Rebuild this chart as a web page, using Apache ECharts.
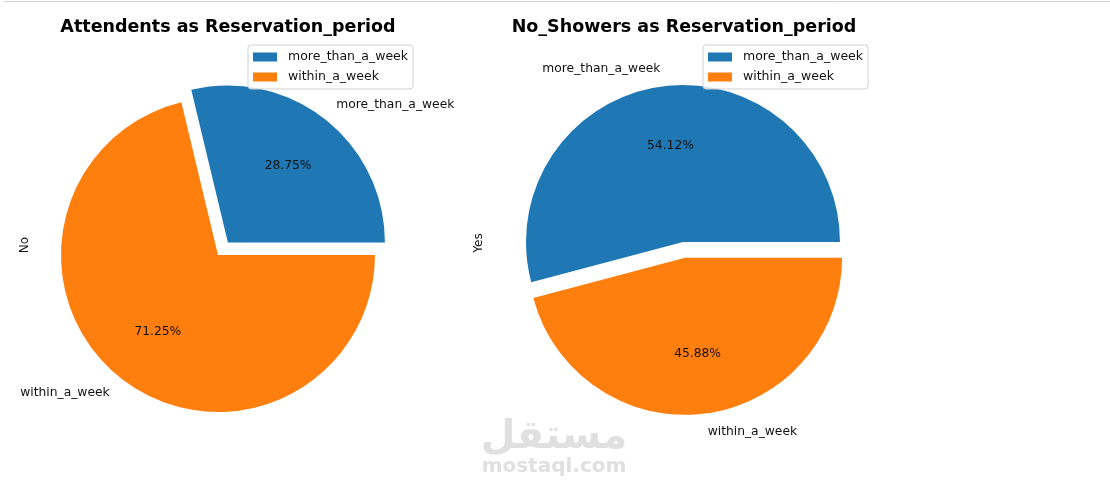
<!DOCTYPE html>
<html>
<head>
<meta charset="utf-8">
<script src="https://cdn.jsdelivr.net/npm/echarts@6/dist/echarts.min.js"></script>
<style>
  html, body { margin: 0; padding: 0; background: #fff; }
  #chart { width: 1110px; height: 489px; }
</style>
</head>
<body>
<div id="chart"></div>
<script>
  // data (percent shares)
  var categories = ['more_than_a_week', 'within_a_week'];
  var attendedShare = [28.75, 71.25];   // "No" (attended)
  var noShowShare = [54.12, 45.88];     // "Yes" (no show)
  var titles = ['Attendents as Reservation_period', 'No_Showers as Reservation_period'];
  var ylabels = ['No', 'Yes'];

  var colors = ['#1f77b4', '#ff7f0e'];
  var FONT = 'DejaVu Sans';
  var R = 157;

  // two pies per chart: the visible one with names outside,
  // a transparent bigger one that carries the % labels at 0.6r
  function pieSeries (values, explodeIdx, center) {
    var slices = values.map(function (v, i) {
      return { name: categories[i], value: v, selected: i === explodeIdx }
    })
    var common = {
      type: 'pie',
      center: center,
      startAngle: 0,
      clockwise: false,
      selectedMode: 'multiple',
      selectedOffset: 16,
      avoidLabelOverlap: false,
      animation: false,
      emphasis: { disabled: true },
      data: slices
    }
    var main = Object.assign({}, common, {
      radius: [0, R],
      itemStyle: { borderWidth: 0 },
      label: {
        position: 'outside',
        formatter: '{b}',
        fontFamily: FONT, fontSize: 12.3, color: '#111',
        distanceToLabelLine: 0
      },
      labelLine: { show: false, length: 18, length2: 0 }
    })
    var pct = Object.assign({}, common, {
      radius: [0, R * 1.2],
      silent: true,
      itemStyle: { color: 'transparent', borderWidth: 0 },
      label: {
        position: 'inside',
        formatter: '{d}%',
        fontFamily: FONT, fontSize: 12.3, color: '#111'
      },
      labelLine: { show: false }
    })
    return [main, pct]
  }

  function legendAt (left) {
    return {
      data: categories,
      orient: 'vertical',
      left: left, top: 45,
      padding: [5, 5],
      itemWidth: 24, itemHeight: 9, itemGap: 6,
      icon: 'rect',
      backgroundColor: 'rgba(255,255,255,0.8)',
      borderColor: '#d0d0d0', borderWidth: 1, borderRadius: 3,
      selectedMode: false,
      textStyle: { fontFamily: FONT, fontSize: 12.5, color: '#111', lineHeight: 14, padding: [0, 0, 0, 6] }
    }
  }

  var chart = echarts.init(document.getElementById('chart'))
  chart.setOption({
    color: colors,
    title: [
      { text: titles[0], left: 223, top: 13, textAlign: 'center',
        textStyle: { fontFamily: FONT, fontSize: 17.5, fontWeight: 'bold', color: '#000' } },
      { text: titles[1], left: 679, top: 13, textAlign: 'center',
        textStyle: { fontFamily: FONT, fontSize: 17.5, fontWeight: 'bold', color: '#000' } }
    ],
    legend: [legendAt(248), legendAt(703)],
    graphic: [
      { type: 'line', shape: { x1: 4, y1: 1.5, x2: 1110, y2: 1.5 }, style: { stroke: '#d4d4d4', lineWidth: 1 } },
      { type: 'text', x: 25, y: 245, rotation: Math.PI / 2,
        style: { text: ylabels[0], fontFamily: FONT, fontSize: 12, fill: '#111', align: 'center', verticalAlign: 'middle' } },
      { type: 'text', x: 479, y: 243, rotation: Math.PI / 2,
        style: { text: ylabels[1], fontFamily: FONT, fontSize: 12, fill: '#111', align: 'center', verticalAlign: 'middle' } },
      // watermark
      { type: 'text', x: 554, y: 438, z: -1,
        style: { text: 'مستقل', fontFamily: FONT, fontSize: 40, fontWeight: 'bold', fill: '#e0e0e0', align: 'center', verticalAlign: 'middle' } },
      { type: 'text', x: 554, y: 467, z: -1,
        style: { text: 'mostaql.com', fontFamily: FONT, fontSize: 20, fontWeight: 'bold', fill: '#e0e0e0', align: 'center', verticalAlign: 'middle' } }
    ],
    series: pieSeries(attendedShare, 0, [218, 255]).concat(pieSeries(noShowShare, 1, [683, 242]))
  })
</script>
</body>
</html>
